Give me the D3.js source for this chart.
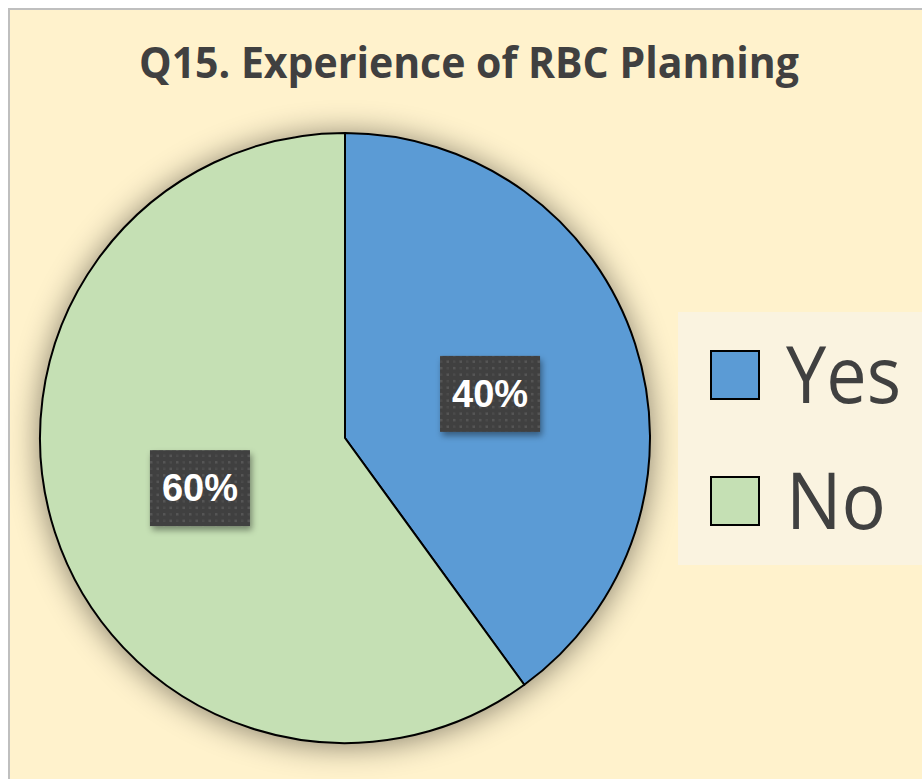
<!DOCTYPE html>
<html>
<head>
<meta charset="utf-8">
<script src="https://cdn.jsdelivr.net/npm/d3@7"></script>
<style>
  body { margin: 0; background: #ffffff; }
  svg { display: block; }
</style>
</head>
<body>
<div class="chart"></div>
<script>
// data
const categories = ['Yes', 'No'];
const values = [40, 60];
const colors = ['#5B9BD5', '#C5E0B4'];

const W = 922, H = 779;
const cx = 345, cy = 438, R = 305;

const svg = d3.select('.chart').append('svg')
  .attr('width', W)
  .attr('height', H);

const defs = svg.append('defs');

// soft shadow under the pie
const sh = defs.append('filter').attr('id', 'pieShadow')
  .attr('x', '-20%').attr('y', '-20%').attr('width', '140%').attr('height', '140%');
sh.append('feGaussianBlur').attr('in', 'SourceAlpha').attr('stdDeviation', 16).attr('result', 'b');
sh.append('feOffset').attr('in', 'b').attr('dx', 0).attr('dy', 2).attr('result', 'o');
sh.append('feComponentTransfer').attr('in', 'o').attr('result', 's')
  .append('feFuncA').attr('type', 'linear').attr('slope', 0.5);
const shm = sh.append('feMerge');
shm.append('feMergeNode').attr('in', 's');
shm.append('feMergeNode').attr('in', 'SourceGraphic');

// shadow for label boxes
const lb = defs.append('filter').attr('id', 'boxShadow')
  .attr('x', '-20%').attr('y', '-20%').attr('width', '140%').attr('height', '150%');
lb.append('feDropShadow').attr('dx', 2).attr('dy', 4).attr('stdDeviation', 3)
  .attr('flood-color', '#000').attr('flood-opacity', 0.4);

// dotted texture for label boxes
const pat = defs.append('pattern').attr('id', 'dots')
  .attr('patternUnits', 'userSpaceOnUse').attr('width', 13).attr('height', 13);
pat.append('rect').attr('width', 13).attr('height', 13).attr('fill', '#3f3f3f');
pat.append('rect').attr('x', 2).attr('y', 2).attr('width', 2.5).attr('height', 2.5).attr('fill', '#575757');
pat.append('rect').attr('x', 8.5).attr('y', 8.5).attr('width', 2.5).attr('height', 2.5).attr('fill', '#575757');
pat.append('rect').attr('x', 8.5).attr('y', 2).attr('width', 2.5).attr('height', 2.5).attr('fill', '#4b4b4b');
pat.append('rect').attr('x', 2).attr('y', 8.5).attr('width', 2.5).attr('height', 2.5).attr('fill', '#4b4b4b');

// chart area
svg.append('rect')
  .attr('x', 9).attr('y', 9)
  .attr('width', W).attr('height', H)
  .attr('fill', '#FFF2CC')
  .attr('stroke', '#BFBFBF')
  .attr('stroke-width', 2);

// title
svg.append('text').text('Q15. Experience of RBC Planning')
  .attr('x', 469)
  .attr('y', 78)
  .attr('text-anchor', 'middle')
  .attr('font-family', 'Open Sans, sans-serif')
  .attr('font-weight', 'bold')
  .attr('font-size', 43)
  .attr('textLength', 660)
  .attr('lengthAdjust', 'spacingAndGlyphs')
  .attr('fill', '#404040');

// pie
const pie = d3.pie().sort(null).value(d => d.value);
const arc = d3.arc().innerRadius(0).outerRadius(R);
const data = categories.map((c, i) => ({ name: c, value: values[i], color: colors[i] }));
const arcs = pie(data);

const g = svg.append('g').attr('transform', `translate(${cx},${cy})`);

g.append('circle').attr('r', R).attr('fill', '#FFF2CC').attr('filter', 'url(#pieShadow)');

g.selectAll('path.slice')
  .data(arcs)
  .enter().append('path')
  .attr('class', 'slice')
  .attr('d', arc)
  .attr('fill', d => d.data.color)
  .attr('stroke', '#000')
  .attr('stroke-width', 2)
  .attr('stroke-linejoin', 'round');

// data labels
const total = d3.sum(values);
const labels = g.selectAll('g.lbl')
  .data(arcs)
  .enter().append('g')
  .attr('class', 'lbl')
  .attr('transform', d => {
    const c = arc.centroid(d);
    return `translate(${c[0]},${c[1]})`;
  });

labels.append('rect')
  .attr('x', -50).attr('y', -35)
  .attr('width', 100).attr('height', 76)
  .attr('fill', 'url(#dots)')
  .attr('filter', 'url(#boxShadow)');

labels.append('text')
  .text(d => Math.round(d.data.value / total * 100) + '%')
  .attr('text-anchor', 'middle')
  .attr('y', 16)
  .attr('font-family', 'Liberation Sans, Arial, sans-serif')
  .attr('font-weight', 'bold')
  .attr('font-size', 38)
  .attr('fill', '#ffffff');

// legend
const legend = svg.append('g');
legend.append('rect')
  .attr('x', 678).attr('y', 312)
  .attr('width', 250).attr('height', 253)
  .attr('fill', '#FAF3E0');

const y = d3.scalePoint().domain(categories).range([375, 501]);

const items = legend.selectAll('g.item')
  .data(data)
  .enter().append('g')
  .attr('class', 'item')
  .attr('transform', d => `translate(0,${y(d.name)})`);

items.append('rect')
  .attr('x', 711).attr('y', -24)
  .attr('width', 48).attr('height', 48)
  .attr('fill', d => d.color)
  .attr('stroke', '#000')
  .attr('stroke-width', 2);

items.append('text')
  .text(d => d.name)
  .attr('x', 786)
  .attr('y', 28)
  .attr('font-family', 'Open Sans, sans-serif')
  .attr('font-size', 78)
  .attr('textLength', d => d.name === 'Yes' ? 115 : 100)
  .attr('lengthAdjust', 'spacingAndGlyphs')
  .attr('fill', '#404040');
</script>
</body>
</html>
